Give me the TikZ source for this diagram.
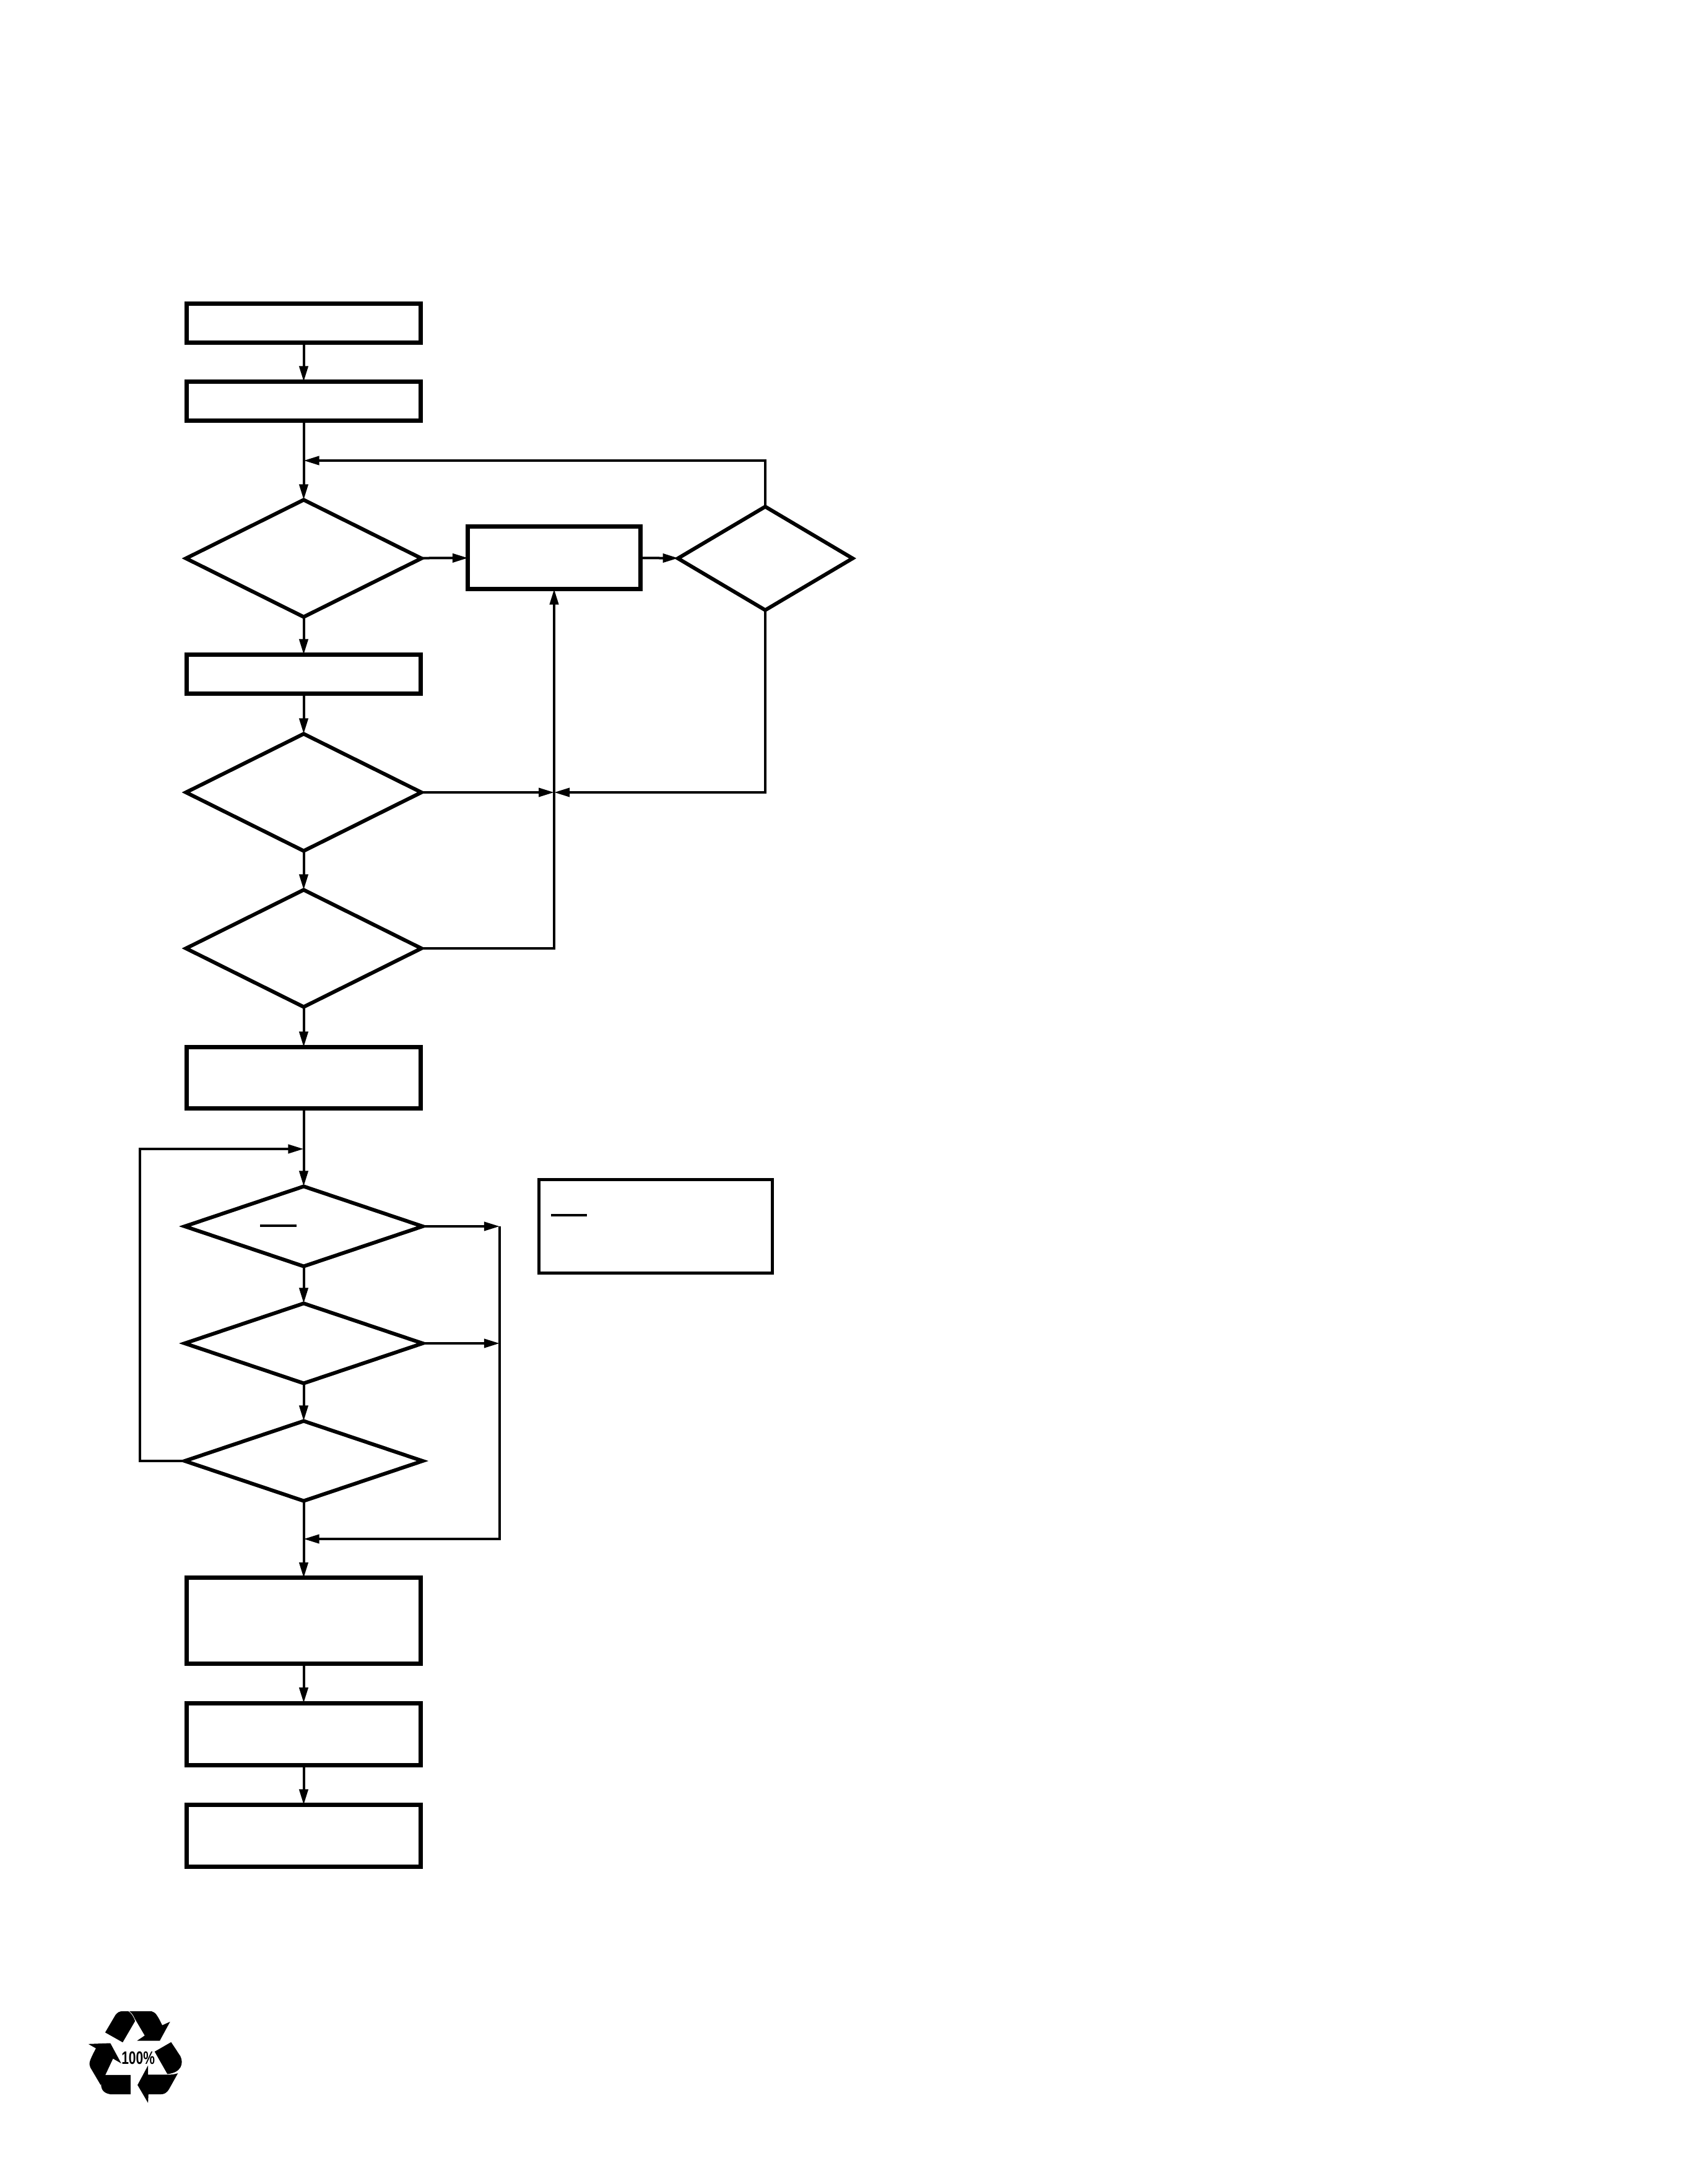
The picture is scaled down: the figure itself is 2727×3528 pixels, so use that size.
\documentclass[tikz,border=0pt]{standalone}
\usepackage{fontspec}
\setmainfont{Liberation Sans}
\usetikzlibrary{arrows.meta,shapes.geometric}
\tikzset{
  stepbox/.style={draw=black,fill=white,rectangle,line width=0.07cm,inner sep=0pt,outer sep=0pt},
  choice/.style={draw=black,fill=white,diamond,line width=0.06cm,inner sep=0pt,outer sep=0pt,aspect=2,minimum width=3.80cm,minimum height=1.89cm},
  flatchoice/.style={choice,minimum width=3.84cm,minimum height=1.29cm},
  notebox/.style={draw=black,rectangle,line width=0.05cm,inner sep=0pt,outer sep=0pt},
  link/.style={draw=black,line width=0.04cm,line join=miter},
  flow/.style={link,-{Triangle[length=0.25cm,width=0.14cm]}},
  overbar/.style={draw=black,line width=0.035cm},
  logo/.style={fill=black,draw=none}
}
\begin{document}
\begin{tikzpicture}[x=0.01cm,y=-0.01cm]
\useasboundingbox[fill=white] (0,0) rectangle (2727,3528);
% boxes
\node[stepbox,minimum width=3.78cm,minimum height=0.63cm] (b1) at (490.5,522) {};
\node[stepbox,minimum width=3.78cm,minimum height=0.63cm] (b2) at (490.5,648) {};
\node[choice] (d1) at (490.5,902) {};
\node[stepbox,minimum width=2.78cm,minimum height=1.01cm] (p) at (895,901) {};
\node[choice,minimum width=2.82cm,minimum height=1.67cm] (d2) at (1236,902) {};
\node[stepbox,minimum width=3.78cm,minimum height=0.63cm] (b3) at (490.5,1089) {};
\node[choice] (d3) at (490.5,1280) {};
\node[choice] (d4) at (490.5,1532) {};
\node[stepbox,minimum width=3.78cm,minimum height=0.99cm] (b4) at (490.5,1741) {};
\node[flatchoice] (d5) at (490.5,1981) {};
\node[flatchoice] (d6) at (490.5,2170) {};
\node[flatchoice] (d7) at (490.5,2360) {};
\node[stepbox,minimum width=3.78cm,minimum height=1.38cm] (b5) at (490.5,2618) {};
\node[stepbox,minimum width=3.78cm,minimum height=1.00cm] (b6) at (490.5,2801) {};
\node[stepbox,minimum width=3.78cm,minimum height=1.00cm] (b7) at (490.5,2965.5) {};
\node[notebox,minimum width=3.77cm,minimum height=1.51cm] (note) at (1059,1981) {};
% junctions
\coordinate (j1) at (490.5,744);
\coordinate (j2) at (895,1280);
\coordinate (j3) at (490.5,1856);
\coordinate (j4) at (807,1981);
\coordinate (j5) at (807,2170);
\coordinate (j6) at (490.5,2486);
\coordinate (c1) at (1236,744);
\coordinate (c2) at (1236,1280);
\coordinate (c3) at (895,1532);
\coordinate (c4) at (226,2360);
\coordinate (c5) at (226,1856);
\coordinate (c6) at (807,2486);
% connectors
\draw[flow] (b1) -- (b2);
\draw[flow] (b2) -- (d1);
\draw[flow] (d1) -- (p);
\draw[flow] (p) -- (d2);
\draw[flow] (d2.north) -- (c1) -- (j1);
\draw[flow] (d1) -- (b3);
\draw[flow] (b3) -- (d3);
\draw[flow] (d3) -- (d4);
\draw[flow] (d3) -- (j2);
\draw[flow] (d2.south) -- (c2) -- (j2);
\draw[flow] (d4.east) -- (c3) -- (p.south);
\draw[flow] (d4) -- (b4);
\draw[flow] (b4) -- (d5);
\draw[flow] (d5) -- (d6);
\draw[flow] (d6) -- (d7);
\draw[flow] (d7.west) -- (c4) -- (c5) -- (j3);
\draw[flow] (d5) -- (j4);
\draw[flow] (d6) -- (j5);
\draw[flow] (j4) -- (c6) -- (j6);
\draw[flow] (d7) -- (b5);
\draw[flow] (b5) -- (b6);
\draw[flow] (b6) -- (b7);
% overbars left from the labels
\draw[overbar] (420,1980) -- (479,1980);
\draw[overbar] (890,1963) -- (948,1963);
% recycling mark
\begin{scope}[shift={(100,3180)},x=0.003333cm,y=-0.003333cm]
\fill[logo] (210,310) -- (260,225) .. controls (270,212) and (280,207) .. (295,207) -- (322,207) .. controls (335,215) and (348,232) .. (355,255) -- (295,358) -- cycle;
\fill[logo] (327,207) -- (435,207) .. controls (455,212) and (465,230) .. (487,275) -- (525,258) -- (475,350) -- (365,350) -- (402,325) -- (355,245) .. controls (348,230) and (340,215) .. (327,207) -- cycle;
\fill[logo] (450,403) -- (530,357) -- (575,425) .. controls (592,460) and (580,505) .. (512,512) -- cycle;
\fill[logo] (563,508) -- (520,585) .. controls (508,605) and (495,610) .. (480,610) -- (420,610) -- (418,652) -- (367,565) -- (418,470) -- (418,515) -- (515,515) .. controls (535,515) and (550,512) .. (563,508) -- cycle;
\fill[logo] (333,516) -- (333,610) -- (235,610) .. controls (205,605) and (190,590) .. (190,560) .. controls (190,545) and (195,530) .. (205,516) -- cycle;
\fill[logo] (128,366) -- (235,362) -- (288,460) -- (248,437) -- (188,565) -- (138,480) .. controls (128,460) and (135,445) .. (165,387) -- cycle;
\node[font=\bfseries\fontsize{8.3}{8.3}\selectfont,xscale=0.72,inner sep=0pt] (pct) at (370,435) {100\%};
\end{scope}
\end{tikzpicture}
\end{document}
